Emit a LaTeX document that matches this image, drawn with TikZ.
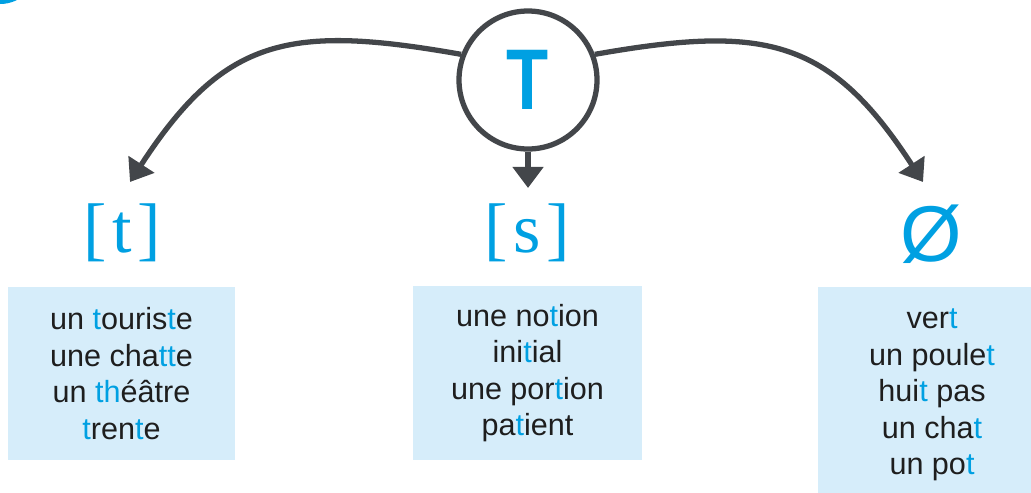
\documentclass[tikz,border=0pt]{standalone}
\usepackage{fontspec}
\setmainfont{Liberation Sans}
\newfontfamily\ipafont{Liberation Serif}
\usetikzlibrary{arrows.meta}

\definecolor{tblue}{RGB}{0,160,226}
\definecolor{boxblue}{RGB}{214,237,250}
\definecolor{arrowgray}{RGB}{67,70,74}
\definecolor{wordblack}{RGB}{30,30,30}
\newcommand{\hl}[1]{\textcolor{tblue}{#1}}

\tikzset{
  arrowline/.style={draw=arrowgray, line width=3pt, -{Triangle[width=17pt,length=12pt]}},
  wordbox/.style={fill=boxblue, inner sep=0pt, align=center, text=wordblack,
    font=\fontsize{17.4pt}{20.8pt}\selectfont},
  soundlab/.style={text=tblue, inner sep=0pt, font=\ipafont\fontsize{40pt}{40pt}\selectfont}
}

\begin{document}
\begin{tikzpicture}
\useasboundingbox (0, 0) rectangle (20.62, -9.84);
\clip (0, 0) rectangle (20.62, -9.84);

% badge cut off at the corner
\fill [tblue] (0, 0.68) circle (0.76);

% the letter
\node (T) at (10.56, -1.6) [circle, draw=arrowgray, line width=3pt, fill=white,
  minimum size=2.76cm, inner sep=0pt, text=tblue,
  font=\bfseries\fontsize{49pt}{49pt}\selectfont] {\scalebox{0.8}[1]{T}};

% the three sounds
\node (tlab) at (2.44, -4.66) [soundlab] {[\kern0.08em t\kern0.08em]};
\node (slab) at (10.54, -4.66) [soundlab] {[\kern0.08em s\kern0.08em]};
\node (zlab) at (18.62, -4.68) [soundlab, font=\fontsize{45pt}{45pt}\selectfont] {Ø};

\coordinate (tend) at (2.6, -3.64);
\coordinate (send) at (10.56, -3.76);
\coordinate (zend) at (18.46, -3.64);

\draw [arrowline] (T.159) to [out=170, in=57, looseness=1.25] (tend);
\draw [arrowline] (T.south) -- (send);
\draw [arrowline] (T.21) to [out=10, in=123, looseness=1.25] (zend);

% the word lists
\node (tbox) at (2.43, -7.47) [wordbox, minimum width=4.54cm, minimum height=3.46cm]
  {un \hl{t}ouris\hl{t}e\\une cha\hl{tt}e\\un \hl{th}éâtre\\\hl{t}ren\hl{t}e};
\node (sbox) at (10.55, -7.46) [wordbox, minimum width=4.58cm, minimum height=3.48cm]
  {une no\hl{t}ion\\ini\hl{t}ial\\une por\hl{t}ion\\pa\hl{t}ient};
\node (zbox) at (18.64, -7.9) [wordbox, minimum width=4.56cm, minimum height=4.32cm]
  {ver\hl{t}\\un poule\hl{t}\\hui\hl{t} pas\\un cha\hl{t}\\un po\hl{t}};
\end{tikzpicture}
\end{document}
